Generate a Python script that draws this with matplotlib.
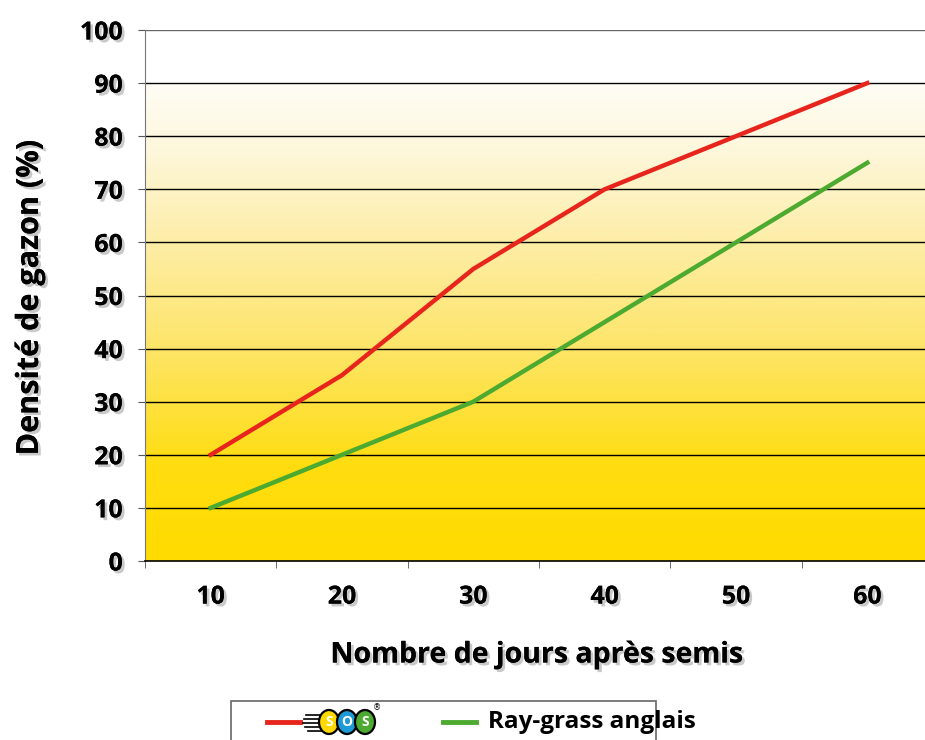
import numpy as np
import matplotlib
matplotlib.use('Agg')
import matplotlib.pyplot as plt
import matplotlib.patheffects as pe
from matplotlib.patches import Ellipse, Rectangle

# Données
jours = [10, 20, 30, 40, 50, 60]
sos = [20, 35, 55, 70, 80, 90]
ray_grass = [10, 20, 30, 45, 60, 75]
yticks = list(range(0, 101, 10))

ROUGE = '#E8251D'
VERT = '#4BAA2F'
FONT = 'Open Sans'

shadow = [pe.withSimplePatchShadow(offset=(2, -2), shadow_rgbFace='#888888', alpha=0.45), pe.Normal()]

fig = plt.figure(figsize=(9.25, 7.4), dpi=100)
W, H = 925, 740
ax = fig.add_axes([145 / W, (H - 561) / H, 788 / W, 531 / H])

# fond dégradé jaune -> blanc (blanc au-dessus de 90)
grad = np.linspace(0, 1, 256).reshape(-1, 1)
cmap = matplotlib.colors.LinearSegmentedColormap.from_list(
    'fond', [(0.0, '#FFDB00'), (0.2, '#FFDD10'), (0.45, '#FDE56A'),
             (0.7, '#FDEFB0'), (0.88, '#FEF8E0'), (1.0, '#FFFDF5')])
ax.imshow(grad, extent=[5, 65, 0, 90], origin='lower', aspect='auto', cmap=cmap, zorder=0)

for y in yticks[1:-1]:
    ax.axhline(y, color='black', lw=1.0, zorder=1)
ax.axhline(100, color='#666666', lw=1.0, zorder=1)

ax.plot(jours, sos, color=ROUGE, lw=3.2, zorder=3, solid_joinstyle='miter')
ax.plot(jours, ray_grass, color=VERT, lw=3.2, zorder=3, solid_joinstyle='miter')

ax.set_xlim(5, 65)
ax.set_ylim(0, 100)
ax.set_xticks(jours)
ax.set_xticks([5, 15, 25, 35, 45, 55, 65], minor=True)
ax.set_yticks(yticks)
ax.tick_params(axis='x', which='major', length=0, pad=17)
ax.tick_params(axis='x', which='minor', length=5, color='#555555', direction='out')
ax.tick_params(axis='y', length=5, color='#555555', pad=11)
for lab in ax.get_xticklabels() + ax.get_yticklabels():
    lab.set_fontfamily(FONT)
    lab.set_fontweight('bold')
    lab.set_fontsize(18)
    lab.set_path_effects(shadow)

for s in ['top', 'right']:
    ax.spines[s].set_visible(False)
ax.spines['left'].set_color('#777777')
ax.spines['bottom'].set_color('black')
ax.spines['bottom'].set_linewidth(1.2)

fig.text(30 / W, 1 - 298 / H, 'Densité de gazon (%)', rotation=90, ha='center', va='center',
         fontsize=22, fontweight='bold', family=FONT, path_effects=shadow)
fig.text(537 / W, 1 - 655 / H, 'Nombre de jours après semis', ha='center', va='center',
         fontsize=20.5, fontweight='bold', family=FONT, path_effects=shadow)

# Légende
lax = fig.add_axes([230 / W, -20 / H, 427 / W, 60 / H])
lax.set_xlim(230, 657)
lax.set_ylim(760, 700)
lax.axis('off')
lax.add_patch(Rectangle((231, 701), 425, 58, facecolor='white', edgecolor='#666666', lw=1.2))
lax.plot([267, 300], [722, 722], color=ROUGE, lw=3.5)
lax.plot([443, 476], [722, 722], color=VERT, lw=3.5)
for yy, x0 in [(715, 306), (719, 304), (723, 303), (727, 305), (731, 308)]:
    lax.plot([x0, 322], [yy, yy], color='black', lw=1.2)
for cx, col in [(329, '#FFD800'), (347, '#1E9AD6'), (365, '#4BAA2F')]:
    lax.add_patch(Ellipse((cx, 722), 20, 24, facecolor=col, edgecolor='black', lw=1.6, zorder=3))
for cx, ch in [(329, 'S'), (347, 'O'), (365, 'S')]:
    lax.text(cx, 722, ch, ha='center', va='center', color='white', fontsize=10,
             fontweight='bold', family=FONT, zorder=4)
lax.text(377, 708, '®', fontsize=6, ha='center', va='center')
lax.text(488, 722, 'Ray-grass anglais', ha='left', va='center', fontsize=17.5,
         fontweight='bold', family=FONT)

fig.savefig('out.png', dpi=100)
